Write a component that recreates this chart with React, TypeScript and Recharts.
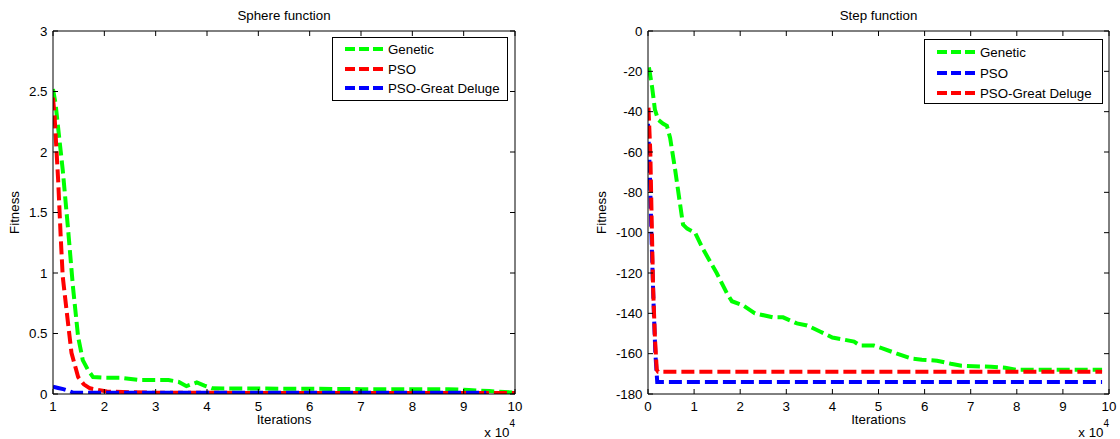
import React from 'react';
import { LineChart, Line, XAxis, YAxis } from 'recharts';

const FONT = '"Liberation Sans", Arial, Helvetica, sans-serif';
const FS = 13.3;
const GREEN = '#00ff00';
const RED = '#ff0000';
const BLUE = '#0000ff';

// ---------- Sphere function (x in units of 10^4 iterations) ----------
const sphereTitle = 'Sphere function';
const sphereXTicks = [1, 2, 3, 4, 5, 6, 7, 8, 9, 10];
const sphereYTicks = [0, 0.5, 1, 1.5, 2, 2.5, 3];
const sphereNames = ['Genetic', 'PSO', 'PSO-Great Deluge'];

const sphereGeneticX = [1.0, 1.05, 1.1, 1.19, 1.29, 1.39, 1.49, 1.58, 1.68, 1.78, 2.0, 2.3, 2.7, 3.25, 3.45, 3.6, 3.8, 3.95, 4.1, 5.0, 6.0, 7.0, 8.0, 8.7, 9.1, 9.5, 10.0];
const sphereGeneticY = [2.52, 2.4, 2.2, 1.85, 1.38, 0.88, 0.47, 0.28, 0.2, 0.14, 0.135, 0.135, 0.115, 0.115, 0.1, 0.065, 0.095, 0.07, 0.047, 0.045, 0.043, 0.04, 0.04, 0.04, 0.033, 0.024, 0.012];

const spherePsoX = [1.0, 1.03, 1.1, 1.15, 1.19, 1.27, 1.36, 1.49, 1.6, 1.72, 2.05, 3.0, 5.0, 10.0];
const spherePsoY = [2.45, 2.3, 1.77, 1.3, 0.97, 0.67, 0.34, 0.14, 0.08, 0.047, 0.02, 0.01, 0.009, 0.008];

const sphereDelugeX = [1.0, 1.1, 1.2, 1.3, 1.4, 5.0, 9.44];
const sphereDelugeY = [0.06, 0.05, 0.04, 0.027, 0.01, 0.01, 0.01];

// ---------- Step function ----------
const stepTitle = 'Step function';
const stepXTicks = [0, 1, 2, 3, 4, 5, 6, 7, 8, 9, 10];
const stepYTicks = [-180, -160, -140, -120, -100, -80, -60, -40, -20, 0];
const stepNames = ['Genetic', 'PSO', 'PSO-Great Deluge'];

const stepGeneticX = [0.02, 0.09, 0.15, 0.22, 0.33, 0.41, 0.48, 0.59, 0.69, 0.76, 0.85, 1.02, 1.19, 1.49, 1.71, 1.82, 2.06, 2.32, 2.71, 2.93, 3.23, 3.45, 3.73, 4.0, 4.24, 4.47, 4.6, 4.9, 5.1, 5.4, 5.73, 5.94, 6.27, 6.57, 6.8, 7.44, 7.75, 7.98, 9.85];
const stepGeneticY = [-18, -28, -39, -44, -46, -47, -53, -69, -85, -96, -98, -100, -108, -120, -130, -134, -136, -140, -142, -142, -145, -146, -149, -152, -153, -154, -156, -156, -157.5, -160, -162.5, -163, -163.5, -165, -166, -166.5, -167, -168, -168];

const stepPsoX = [0.0, 0.04, 0.08, 0.12, 0.16, 0.2, 9.85];
const stepPsoY = [-46, -70, -105, -135, -160, -174, -174];

const stepDelugeX = [0.01, 0.05, 0.08, 0.11, 0.15, 0.19, 0.22, 9.85];
const stepDelugeY = [-38, -60, -94, -127, -152, -168, -169, -169];

const zip = (xs: number[], ys: number[]) => xs.map((x, i) => ({ x, y: ys[i] }));

type Series = { name: string; color: string; data: { x: number; y: number }[] };

const sphereSeries: Series[] = [
  { name: sphereNames[0], color: GREEN, data: zip(sphereGeneticX, sphereGeneticY) },
  { name: sphereNames[1], color: RED, data: zip(spherePsoX, spherePsoY) },
  { name: sphereNames[2], color: BLUE, data: zip(sphereDelugeX, sphereDelugeY) },
];

const stepSeries: Series[] = [
  { name: stepNames[0], color: GREEN, data: zip(stepGeneticX, stepGeneticY) },
  { name: stepNames[1], color: BLUE, data: zip(stepPsoX, stepPsoY) },
  { name: stepNames[2], color: RED, data: zip(stepDelugeX, stepDelugeY) },
];

const AX = '#000';

const BottomTick = (p: any) => (
  <g>
    <line x1={p.x} x2={p.x} y1={p.y} y2={p.y - 5} stroke={AX} strokeWidth={1} />
    <text x={p.x} y={p.y + 17} textAnchor="middle" fontSize={FS} fontFamily={FONT} fill="#000">
      {String(p.payload.value)}
    </text>
  </g>
);
const TopTick = (p: any) => (
  <line x1={p.x} x2={p.x} y1={p.y} y2={p.y + 5} stroke={AX} strokeWidth={1} />
);
const LeftTick = (p: any) => (
  <g>
    <line x1={p.x} x2={p.x + 5} y1={p.y} y2={p.y} stroke={AX} strokeWidth={1} />
    <text x={p.x - 5.5} y={p.y + 4.8} textAnchor="end" fontSize={FS} fontFamily={FONT} fill="#000">
      {String(p.payload.value)}
    </text>
  </g>
);
const RightTick = (p: any) => (
  <line x1={p.x} x2={p.x - 5} y1={p.y} y2={p.y} stroke={AX} strokeWidth={1} />
);

function Plot(props: {
  margin: { top: number; right: number; bottom: number; left: number };
  xDomain: [number, number];
  xTicks: number[];
  yDomain: [number, number];
  yTicks: number[];
  series: Series[];
}) {
  const { margin, xDomain, xTicks, yDomain, yTicks, series } = props;
  const common = { type: 'number' as const, allowDataOverflow: true, tickSize: 0, tickMargin: 0, tickLine: false, axisLine: { stroke: AX, strokeWidth: 1 }, interval: 0 as const };
  return (
    <LineChart width={560} height={439} margin={margin}>
      <XAxis xAxisId="b" dataKey="x" orientation="bottom" domain={xDomain} ticks={xTicks} height={1} tick={BottomTick} {...common} />
      <XAxis xAxisId="t" dataKey="x" orientation="top" domain={xDomain} ticks={xTicks} height={1} tick={TopTick} {...common} />
      <YAxis yAxisId="l" dataKey="y" orientation="left" domain={yDomain} ticks={yTicks} width={1} tick={LeftTick} {...common} />
      <YAxis yAxisId="r" dataKey="y" orientation="right" domain={yDomain} ticks={yTicks} width={1} tick={RightTick} {...common} />
      {series.map((s) => (
        <Line
          key={s.name}
          xAxisId="b"
          yAxisId="l"
          data={s.data}
          dataKey="y"
          name={s.name}
          type="linear"
          stroke={s.color}
          strokeWidth={4}
          strokeDasharray="13 5"
          dot={false}
          activeDot={false}
          isAnimationActive={false}
        />
      ))}
    </LineChart>
  );
}

function LegendBox(props: { left: number; top: number; width: number; height: number; rows: number[]; series: Series[] }) {
  const { left, top, width, height, rows, series } = props;
  return (
    <g transform={`translate(${left},${top})`}>
      <rect x={0.5} y={0.5} width={width} height={height} fill="#fff" stroke="#000" strokeWidth={1} />
      {series.map((s, i) => (
        <g key={s.name}>
          <line x1={13} x2={51} y1={rows[i]} y2={rows[i]} stroke={s.color} strokeWidth={4} strokeDasharray="10 4" />
          <text x={56} y={rows[i] + 4.8} fontSize={FS} fontFamily={FONT} fill="#000">
            {s.name}
          </text>
        </g>
      ))}
    </g>
  );
}

function Pow(props: { right: number }) {
  return (
    <text x={props.right} y={436.5} textAnchor="end" fontSize={FS} fontFamily={FONT} fill="#000">
      x 10
      <tspan dy={-10} fontSize={10}>4</tspan>
    </text>
  );
}

export default function App() {
  return (
    <div style={{ position: 'absolute', left: 0, top: 0, width: 1120, height: 439, background: '#fff', overflow: 'hidden' }}>
      <div style={{ position: 'absolute', left: 0, top: 0 }}>
        <Plot
          margin={{ top: 30, right: 44, bottom: 44, left: 52 }}
          xDomain={[1, 10]}
          xTicks={sphereXTicks}
          yDomain={[0, 3]}
          yTicks={sphereYTicks}
          series={sphereSeries}
        />
      </div>
      <div style={{ position: 'absolute', left: 560, top: 0 }}>
        <Plot
          margin={{ top: 30, right: 10, bottom: 44, left: 87 }}
          xDomain={[0, 10]}
          xTicks={stepXTicks}
          yDomain={[-180, 0]}
          yTicks={stepYTicks}
          series={stepSeries}
        />
      </div>
      <svg width={1120} height={439} style={{ position: 'absolute', left: 0, top: 0, pointerEvents: 'none' }}>
        <text x={284} y={19.5} textAnchor="middle" fontSize={FS} fontFamily={FONT} fill="#000">{sphereTitle}</text>
        <text x={878.5} y={19.5} textAnchor="middle" fontSize={FS} fontFamily={FONT} fill="#000">{stepTitle}</text>
        <text x={284} y={424} textAnchor="middle" fontSize={FS} fontFamily={FONT} fill="#000">Iterations</text>
        <text x={878.5} y={424} textAnchor="middle" fontSize={FS} fontFamily={FONT} fill="#000">Iterations</text>
        <text x={19} y={212.5} transform="rotate(-90 19 212.5)" textAnchor="middle" fontSize={FS} fontFamily={FONT} fill="#000">Fitness</text>
        <text x={606} y={212.5} transform="rotate(-90 606 212.5)" textAnchor="middle" fontSize={FS} fontFamily={FONT} fill="#000">Fitness</text>
        <Pow right={515} />
        <Pow right={1109} />
        <LegendBox left={332} top={37} width={175} height={63} rows={[12, 32, 51]} series={sphereSeries} />
        <LegendBox left={924} top={39} width={178} height={64} rows={[13, 34, 54]} series={stepSeries} />
      </svg>
    </div>
  );
}
